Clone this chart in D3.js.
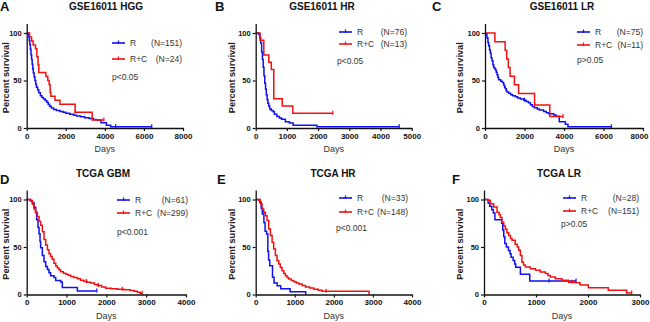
<!DOCTYPE html>
<html><head><meta charset="utf-8">
<script src="https://cdn.jsdelivr.net/npm/d3@7/dist/d3.min.js"></script>
<style>
html,body{margin:0;padding:0;background:#fff;}
svg{display:block;font-family:"Liberation Sans",Arial,sans-serif;}
</style></head>
<body><svg id="c" width="650" height="322"></svg>
<script>
// ---------- DATA (days, percent survival) ----------
const letters = ["A","B","C","D","E","F"];
const titles = ["GSE16011  HGG","GSE16011  HR","GSE16011 LR","TCGA GBM","TCGA HR","TCGA LR"];
const seriesNames = ["R","R+C"];
const nR  = ["(N=151)","(N=76)","(N=75)","(N=61)","(N=33)","(N=28)"];
const nRC = ["(N=24)","(N=13)","(N=11)","(N=299)","(N=148)","(N=151)"];
const pTexts = ["p<0.05","p<0.05","p>0.05","p<0.001","p<0.001","p>0.05"];
const xMax = [8000,5000,8000,4000,4000,3000];
const xTicks = [[0,2000,4000,6000,8000],[0,1000,2000,3000,4000,5000],[0,2000,4000,6000,8000],
                [0,1000,2000,3000,4000],[0,1000,2000,3000,4000],[0,1000,2000,3000]];
const yTicks = [0,50,100];

const hggR = [[0,100],[60,99.3],[100,96],[130,92],[160,88],[190,83],[220,77],[250,72],[280,67],[310,62],[340,58],[380,54],[420,50],[460,46],[500,43],[560,40],[620,37],[700,34],[780,32],[860,30.5],[950,29],[1030,27],[1100,25],[1170,23],[1260,21],[1380,19.5],[1520,18.5],[1700,17.5],[1860,16.5],[2000,15.5],[2200,14.6],[2400,13.5],[2550,12.6],[2750,11.8],[2970,10.9],[3200,10],[3400,9],[3550,8.3],[3800,5.5],[4080,3],[4300,1.4],[6400,1.4]];
const hggRC = [[0,100],[150,95.8],[250,91.7],[330,87.5],[450,83.3],[520,75],[580,66.7],[620,58.3],[980,54.2],[1080,50],[1150,45.8],[1200,37.5],[1240,33.3],[1450,29.2],[1700,25],[2480,16.7],[3350,8.3],[3950,8.3]];
const hrR = [[0,100],[90,98.7],[130,94.7],[160,89.5],[190,80],[215,72],[240,64],[265,55],[290,47],[315,41],[340,35],[365,30],[390,26],[420,23],[450,20],[500,18.4],[560,17],[600,14.5],[680,12],[760,10.5],[830,9.2],[950,6.6],[1080,5.3],[1200,2.9],[1960,1.4],[4600,1.4]];
const hrRC = [[0,100],[140,92.3],[260,76.9],[420,69.2],[500,61.5],[580,30.8],[850,23.1],[1190,15.4],[2470,15.4]];
const lrR = [[0,100],[50,98.7],[100,94.7],[150,90],[185,86.7],[230,82],[270,78.7],[310,74],[355,70.7],[400,66.7],[440,64],[480,62.7],[525,61],[570,58.7],[610,56],[650,53.3],[690,50.7],[800,49.3],[880,48],[945,45.3],[990,43],[1030,41.3],[1080,39],[1115,38],[1200,36.5],[1300,35],[1400,34],[1535,32.8],[1650,31.5],[1790,30.5],[1960,29.3],[2080,28],[2200,26.5],[2300,24.5],[2400,22.7],[2500,21.3],[2650,20],[2750,19],[2970,17.5],[3100,16],[3225,15],[3480,13.7],[3600,12.5],[3760,6.7],[4070,3.9],[4200,1.4],[6400,1.4]];
const lrRC = [[0,100],[500,90.9],[1020,81.8],[1100,72.7],[1180,63.6],[1270,54.5],[1490,45.5],[1700,36.4],[2510,24.2],[3280,12.1],[3950,12.1]];
const gbmR = [[0,100],[100,98.4],[142,96.7],[184,91.8],[226,86.9],[250,78.7],[285,70.5],[310,63.9],[335,55.7],[350,49.2],[393,41],[435,34.4],[477,29.5],[520,26.2],[560,22.9],[600,19.7],[686,18],[728,14.8],[854,13.1],[895,7.4],[1272,3.7],[1760,3.7]];
const gbmRC = [[0,100],[85,99],[142,95],[184,90],[220,86],[268,82],[310,77],[350,73],[393,66],[435,58],[477,52],[520,47],[560,43],[600,40],[640,37],[686,33],[730,30],[770,28],[810,26],[854,24],[920,22.5],[980,21.4],[1040,20.3],[1105,19],[1180,17.8],[1272,16.5],[1350,15],[1440,13.7],[1520,12.8],[1607,12],[1700,10.5],[1774,9.5],[1880,8],[1983,6.7],[2120,6],[2277,5.6],[2444,5],[2600,4.2],[2700,3.5],[2780,2.3],[2850,1.2],[2900,1.2]];
const tcgaHrR = [[0,100],[110,97],[140,90.9],[170,84.8],[210,75.8],[240,66.7],[280,63.6],[310,45.5],[330,36.4],[360,30.3],[430,18.2],[470,12.1],[550,9.1],[640,6.1],[880,3.0],[1280,0]];
const tcgaHrRC = [[0,100],[77,99.3],[120,95.4],[162,90],[205,86.6],[248,83],[290,77.8],[333,69],[376,62],[420,55],[460,48],[504,41],[547,35.6],[590,32],[630,28.5],[675,25],[720,22],[760,19.7],[800,18],[846,16.2],[910,14.8],[974,13.4],[1040,12.2],[1100,11],[1190,9.5],[1274,8],[1380,6.8],[1487,5.6],[1600,4.5],[1700,3.4],[2900,0]];
const tcgaLrR = [[0,100],[80,96.4],[110,92.9],[150,89.3],[180,85.7],[210,78.6],[340,75],[360,67.9],[380,60.7],[400,53.6],[430,50],[470,46.4],[500,42.9],[520,39.3],[560,35.7],[590,32.1],[610,28.6],[700,21.4],[880,14.3],[1770,14.3]];
const tcgaLrRC = [[0,100],[77,99.3],[122,95.4],[186,92],[250,86.6],[290,84],[314,81],[346,76],[380,72],[410,69],[440,65],[475,62],[510,59],[540,57],[600,53],[640,50],[667,46.5],[700,41],[730,34],[760,31],[795,29],[890,27],[990,25.4],[1083,23.6],[1180,22],[1230,20],[1275,18.5],[1372,16.6],[1500,15],[1628,13],[1756,12.3],[1846,10],[2006,7],[2390,4.6],[2744,1.5],[2840,1.5]];

const curvesR  = [hggR, hrR, lrR, gbmR, tcgaHrR, tcgaLrR];
const curvesRC = [hggRC, hrRC, lrRC, gbmRC, tcgaHrRC, tcgaLrRC];
// censored times
const censR  = [[4550,6400],[4600],[2000,6400],[1760],[],[1250,1770]];
const censRC = [[2480,3950],[2470],[2510,3950],[1500,1800,2400,2900],[1800],[1700,2840]];

// ---------- LAYOUT ----------
const layout = [
  {x0:26.7, x1:183,   yb:128,   yt:33,    lx:112, ly:43,  ly2:59,  nx:182, px:112, py:80,  labX:8.5, tx:106, lett:0},
  {x0:255.7,x1:411.7, yb:128,   yt:33,    lx:339, ly:32,  ly2:44,  nx:407, px:337, py:64,  labX:235, tx:322, lett:215},
  {x0:485,  x1:643,   yb:128,   yt:33,    lx:577, ly:32,  ly2:45,  nx:643, px:577, py:63,  labX:463, tx:562, lett:432},
  {x0:26.7, x1:186,   yb:294.5, yt:199.5, lx:117, ly:200, ly2:213, nx:188, px:117, py:235, labX:8.5, tx:103, lett:0},
  {x0:255.7,x1:412,   yb:294.5, yt:199.5, lx:339, ly:198, ly2:212, nx:408, px:336, py:231, labX:235, tx:333, lett:217},
  {x0:484,  x1:640,   yb:294.5, yt:199.5, lx:563, ly:198, ly2:211, nx:639, px:561, py:227, labX:463, tx:559, lett:452}
];
const titleY = [10,10,10,177,177,177];
const letterY = [11,11,11,184,184,184];
const BLUE = "#1010f0", RED = "#f21010";

const svg = d3.select("#c");

layout.forEach((L,i)=>{
  const g = svg.append("g");
  const x = d3.scaleLinear().domain([0,xMax[i]]).range([L.x0,L.x1]);
  const y = d3.scaleLinear().domain([0,110]).range([L.yb, L.yb-(L.yb-L.yt)*1.1]);

  const line = d3.line().x(d=>x(d[0])).y(d=>y(d[1])).curve(d3.curveStepAfter);

  const drawCurve = (data, cens, color) => {
    g.append("path").attr("d", line(data)).attr("fill","none")
      .attr("stroke",color).attr("stroke-width",1.5);
    cens.forEach(t=>{
      let v = data[0][1];
      data.forEach(d=>{ if (d[0] <= t) v = d[1]; });
      g.append("line").attr("x1",x(t)).attr("x2",x(t))
        .attr("y1",y(v)-2.5).attr("y2",y(v)+1.5)
        .attr("stroke",color).attr("stroke-width",1.2);
    });
  };
  drawCurve(curvesR[i], censR[i], BLUE);
  drawCurve(curvesRC[i], censRC[i], RED);

  // axes
  const xa = g.append("g").attr("transform",`translate(0,${L.yb})`)
    .call(d3.axisBottom(x).tickValues(xTicks[i]).tickSize(3).tickSizeOuter(0).tickPadding(2).tickFormat(d3.format("d")));
  const ya = g.append("g").attr("transform",`translate(${L.x0},0)`)
    .call(d3.axisLeft(y).tickValues(yTicks).tickSize(3).tickSizeOuter(0).tickPadding(2));
  [xa,ya].forEach(a=>{
    a.select(".domain").attr("stroke","#111").attr("stroke-width",1.3);
    a.selectAll(".tick line").attr("stroke","#111").attr("stroke-width",1.2);
    a.selectAll(".tick text").attr("fill","#111").style("font-weight","bold")
      .style("font-family","'Liberation Sans',Arial,sans-serif");
  });
  xa.selectAll(".tick text").style("font-size","8px")
    .attr("dx", d => (x(d) + 10 > 650) ? -(x(d) + 10 - 649) : 0);
  ya.selectAll(".tick text").style("font-size","7.5px");

  // axis titles
  g.append("text").attr("x",(L.x0+L.x1)/2).attr("y",L.yb+24).attr("text-anchor","middle")
    .attr("font-size",9).attr("fill","#333").text("Days");
  g.append("text").attr("transform",`translate(${L.labX},${(L.yb+y(110))/2+2}) rotate(-90)`)
    .attr("text-anchor","middle").attr("font-size",9.2).attr("font-weight","bold")
    .attr("fill","#222").text("Percent survival");

  // title and letter
  g.append("text").attr("x",L.tx).attr("y",titleY[i]).attr("text-anchor","middle")
    .attr("font-size",10).attr("font-weight","bold").attr("fill","#111").text(titles[i]);
  g.append("text").attr("x",L.lett).attr("y",letterY[i]).attr("font-size",13)
    .attr("font-weight","bold").attr("fill","#111").text(letters[i]);

  // legend
  const leg = [[seriesNames[0],nR[i],BLUE,L.ly],[seriesNames[1],nRC[i],RED,L.ly2]];
  leg.forEach(([nm,n,c,yy])=>{
    g.append("line").attr("x1",L.lx).attr("x2",L.lx+13).attr("y1",yy).attr("y2",yy)
      .attr("stroke",c).attr("stroke-width",1.6);
    g.append("line").attr("x1",L.lx+6.5).attr("x2",L.lx+6.5).attr("y1",yy-2.5).attr("y2",yy+1)
      .attr("stroke",c).attr("stroke-width",1.2);
    g.append("text").attr("x",L.lx+18).attr("y",yy+3.2).attr("font-size",8.5)
      .attr("fill","#333").text(nm);
    g.append("text").attr("x",L.nx).attr("y",yy+3.2).attr("font-size",8.5)
      .attr("text-anchor","end").attr("fill","#333").text(n);
  });
  g.append("text").attr("x",L.px).attr("y",L.py).attr("font-size",8.5)
    .attr("fill","#333").text(pTexts[i]);
});
</script></body></html>
